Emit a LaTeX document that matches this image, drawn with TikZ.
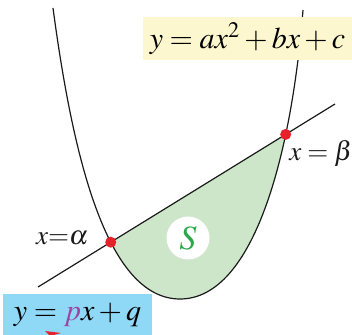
\documentclass[tikz,border=0pt]{standalone}
\usepackage{amsmath,amssymb}
\usepackage{mathptmx}
\usepackage{xcolor}
\usepackage{tikz}
\usetikzlibrary{positioning,calc,intersections}
\definecolor{ink}{HTML}{1A1A1A}
\definecolor{areagreen}{HTML}{CDE6C9}
\definecolor{sgreen}{HTML}{2BA84A}
\definecolor{dotred}{HTML}{E8202A}
\definecolor{paleyellow}{HTML}{FCF7CF}
\definecolor{skyblue}{HTML}{8FD8F6}
\definecolor{ppurple}{HTML}{9A45A0}
\tikzset{
  curve/.style={draw=ink,line width=0.6pt},
  pt/.style={circle,fill=dotred,minimum size=5.5pt,inner sep=0pt},
  eqbox/.style={inner sep=0pt,font=\fontsize{15}{17}\selectfont},
  lbl/.style={inner sep=0pt,font=\fontsize{13.5}{16}\selectfont,text=ink},
  area/.style={circle,fill=white,minimum size=21.5pt,inner sep=0pt,
    font=\fontsize{17}{19}\selectfont,text=sgreen},
}
\begin{document}
\begin{tikzpicture}[x=0.5pt,y=-0.5pt]
  \useasboundingbox (0,0) rectangle (352,335);
  \coordinate (top1) at (53,8);
  \coordinate (vtx) at (180,299);
  \coordinate (top2) at (303,10);
  \coordinate (lstart) at (38,287);
  \coordinate (lend) at (335,104);
  % shaded region: parabola clipped below the line
  \begin{scope}
    \clip (lstart) -- (lend) -- (352,335) -- (0,335) -- cycle;
    \fill[areagreen] (top1) .. controls (72,150) and (105,299) .. (vtx)
      .. controls (255,299) and (292,150) .. (top2) -- cycle;
  \end{scope}
  % parabola and line
  \draw[curve,name path=parab] (top1) .. controls (72,150) and (105,299) .. (vtx)
    .. controls (255,299) and (292,150) .. (top2);
  \draw[curve,name path=lin] (lstart) -- (lend);
  \path[name intersections={of=parab and lin,by={ia,ib},sort by=lin}];
  \node[pt] (alpha) at (ia) {};
  \node[pt] (beta) at (ib) {};
  \node[lbl,left=8pt of alpha,yshift=2pt] (alab) {$x{=}\alpha$};
  \node[lbl,anchor=west] (blab) at (289,153) {$x = \beta$};
  \node[area] (s) at (188,238) {$S$};
  % equations
  \node[eqbox,fill=paleyellow,minimum width=104.5pt,minimum height=21.5pt] (quad) at (247.5,39) {$y = ax^2 + bx + c$};
  \node[eqbox,fill=skyblue,minimum width=74.5pt,minimum height=20.5pt] (lin) at (77.5,314.5) {$y = {\color{ppurple}p}x + q$};
  \fill[dotred] (45,331) -- (61,333) -- (50,336) -- cycle;
\end{tikzpicture}
\end{document}
